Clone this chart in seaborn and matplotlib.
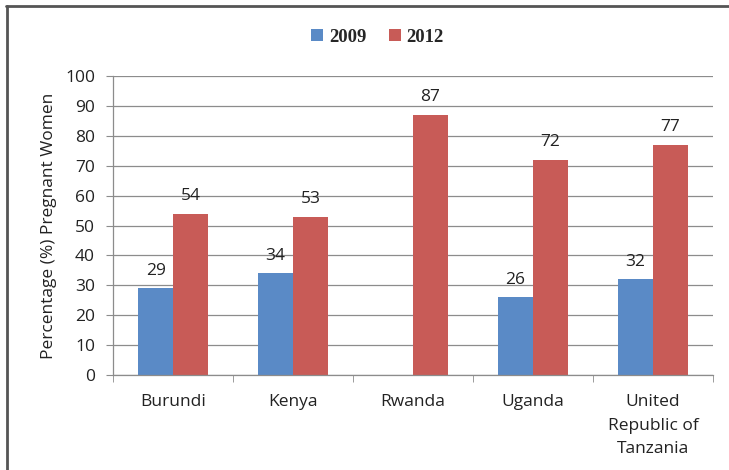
import numpy as np
import pandas as pd
import matplotlib
matplotlib.use("Agg")
import matplotlib.pyplot as plt
import seaborn as sns
from matplotlib.lines import Line2D
from matplotlib.patches import Patch

countries = ["Burundi", "Kenya", "Rwanda", "Uganda", "United\nRepublic of\nTanzania"]
years = ["2009", "2012"]
values_2009 = [29, 34, np.nan, 26, 32]
values_2012 = [54, 53, 87, 72, 77]
y_ticks = [0, 10, 20, 30, 40, 50, 60, 70, 80, 90, 100]
colors = ["#5A8AC6", "#C85B57"]

df = pd.DataFrame({
    "country": countries * 2,
    "year": [years[0]] * len(countries) + [years[1]] * len(countries),
    "value": values_2009 + values_2012,
})

sns.set_style("white")
plt.rcParams["font.family"] = ["Open Sans", "DejaVu Sans"]

fig = plt.figure(figsize=(7.29, 4.70), dpi=100)
ax = fig.add_axes([0.155, 0.202, 0.823, 0.636])

sns.barplot(data=df, x="country", y="value", hue="year", palette=colors,
            width=0.58, ax=ax, legend=False, saturation=1, linewidth=0)

for cont in ax.containers:
    labels = ["" if np.isnan(v) else f"{int(v)}" for v in cont.datavalues]
    ax.bar_label(cont, labels=labels, padding=7, fontsize=12.5, color="#222222")

ax.set_ylim(0, 100)
ax.set_yticks(y_ticks)
ax.set_xlim(-0.5, len(countries) - 0.5)
ax.yaxis.grid(True, color="#8c8c8c", linewidth=0.9)
ax.set_axisbelow(True)
ax.set_xlabel("")
ax.set_ylabel("Percentage (%) Pregnant Women", fontsize=12.5, color="#222222", labelpad=6)

for s in ["top", "right"]:
    ax.spines[s].set_visible(False)
for s in ["left", "bottom"]:
    ax.spines[s].set_color("#8c8c8c")
    ax.spines[s].set_linewidth(0.9)

ax.tick_params(axis="y", which="both", left=True, length=5, color="#8c8c8c",
               labelsize=12.5, labelcolor="#222222", pad=8)
ax.set_xticks(range(len(countries)))
ax.set_xticklabels(countries, fontsize=12.5, color="#222222", linespacing=1.65, va="top")
ax.tick_params(axis="x", which="major", bottom=False, pad=10)
ax.set_xticks(np.arange(-0.5, len(countries), 1.0), minor=True)
ax.tick_params(axis="x", which="minor", bottom=True, length=5, color="#8c8c8c")

handles = [Patch(facecolor=c, edgecolor="none") for c in colors]
fig.legend(handles, years, loc="center", bbox_to_anchor=(0.518, 0.921), ncol=2,
           frameon=False, prop={"family": "Liberation Serif", "weight": "bold", "size": 13.5},
           handlelength=0.65, handleheight=0.65, handletextpad=0.3, columnspacing=1.2)

# chart frame (top/left dark edge)
fig.add_artist(Line2D([0.008, 1.0], [0.987, 0.987], color="#555555", linewidth=2.0,
                      transform=fig.transFigure))
fig.add_artist(Line2D([0.009, 0.009], [0.0, 0.988], color="#555555", linewidth=2.0,
                      transform=fig.transFigure))

fig.savefig("out.png", dpi=100)
